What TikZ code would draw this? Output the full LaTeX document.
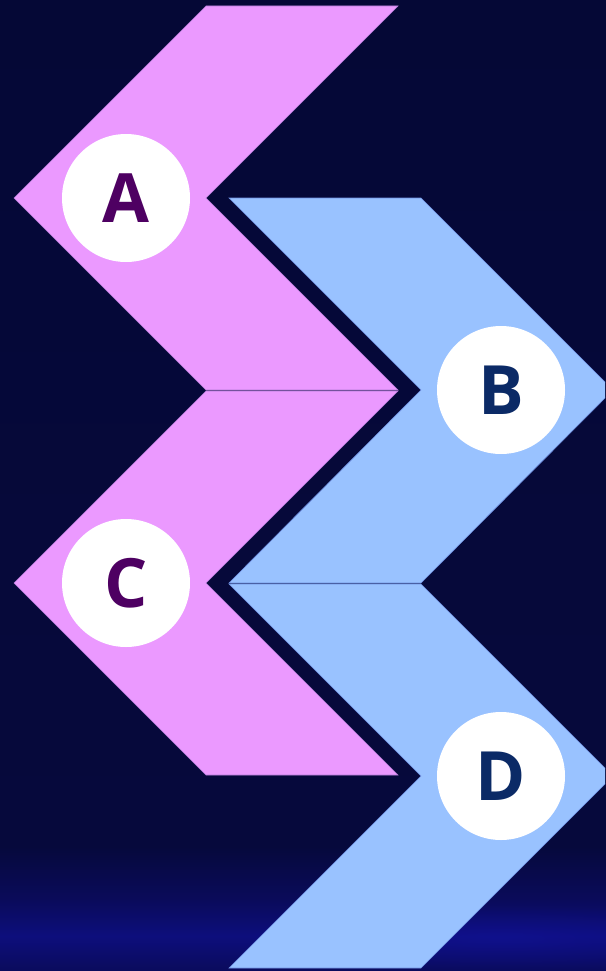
\documentclass[tikz,border=0pt]{standalone}
\usepackage{fontspec}
\usetikzlibrary{fadings}
\setmainfont{Open Sans}
\definecolor{bgtop}{HTML}{050836}
\definecolor{bgmid}{HTML}{06093C}
\definecolor{bglow}{HTML}{0A0B5A}
\definecolor{bgglow}{HTML}{0D0E7C}
\definecolor{glowspot}{HTML}{1414A6}
\definecolor{pinkfill}{HTML}{EB99FF}
\definecolor{pinkline}{HTML}{B27AD6}
\definecolor{bluefill}{HTML}{99C2FF}
\definecolor{blueline}{HTML}{6E8FE0}
\definecolor{purpletext}{HTML}{4E0062}
\definecolor{navytext}{HTML}{0B2A66}
% backdrop: dark navy fading into a blue glow near the lower edge
% (the central 25bp--75bp band spans the filled rectangle)
\pgfdeclareverticalshading{backdrop}{100bp}{
  color(0bp)=(bglow);
  color(25bp)=(bglow);
  color(26.9bp)=(bgglow);
  color(28.8bp)=(bglow);
  color(31.5bp)=(bgmid);
  color(75bp)=(bgtop);
  color(100bp)=(bgtop)}
\tikzfading[name=softspot, inner color=transparent!0, outer color=transparent!100]
\begin{document}
\begin{tikzpicture}[x=1pt,y=-1pt,
  pinkchev/.style={fill=pinkfill,draw=pinkline,line width=0.6pt,line join=miter},
  bluechev/.style={fill=bluefill,draw=blueline,line width=0.6pt,line join=miter},
  badge/.style={circle,fill=white,minimum size=128pt,inner sep=0pt,
    font=\fontsize{68}{68}\selectfont\bfseries}]
  \useasboundingbox (0,0) rectangle (605,971);
  \shade[shading=backdrop] (-2,-2) rectangle (607,973);
  \fill[glowspot,path fading=softspot,opacity=0.4] (500,938) ellipse (260pt and 34pt);
  \begin{scope}
    \clip (0,0) rectangle (605,971);
    % left-pointing chevrons
    \draw[pinkchev] (206,6) -- (398,6) -- (206,198) -- (398,390) -- (206,390) -- (14,198) -- cycle;
    \draw[pinkchev] (206,391) -- (398,391) -- (206,583) -- (398,775) -- (206,775) -- (14,583) -- cycle;
    % right-pointing chevrons
    \draw[bluechev] (229,198) -- (421,198) -- (613,390) -- (421,583) -- (229,583) -- (421,390) -- cycle;
    \draw[bluechev] (229,584) -- (421,584) -- (613,776) -- (421,968) -- (229,968) -- (421,776) -- cycle;
  \end{scope}
  % lettered badges
  \node[badge,text=purpletext] (a) at (126,198) {A};
  \node[badge,text=navytext]   (b) at (501,390) {B};
  \node[badge,text=purpletext] (c) at (126,583) {C};
  \node[badge,text=navytext]   (d) at (501,776) {D};
\end{tikzpicture}
\end{document}
